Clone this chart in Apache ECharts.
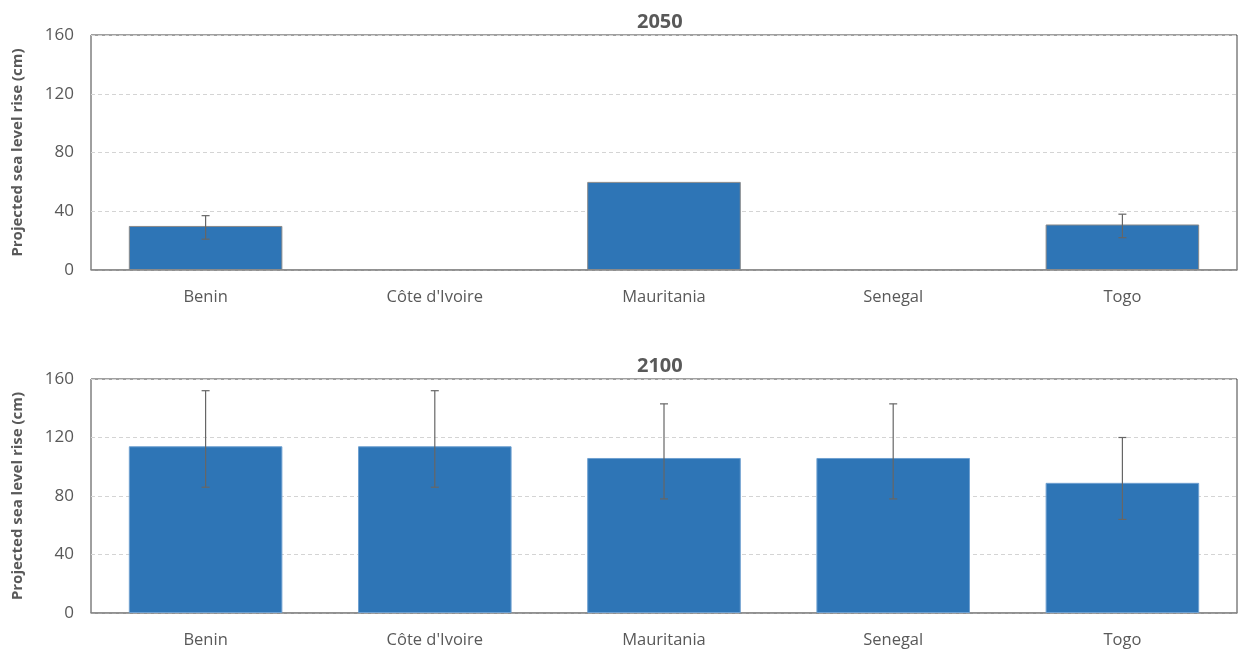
<!DOCTYPE html>
<html>
<head>
<meta charset="utf-8">
<script src="https://cdn.jsdelivr.net/npm/echarts@6/dist/echarts.min.js"></script>
<style>
  html, body { margin: 0; padding: 0; background: #fff; }
  #chart { width: 1243px; height: 651px; }
</style>
</head>
<body>
<div id="chart"></div>
<script>
const countries = ['Benin', "Côte d'Ivoire", 'Mauritania', 'Senegal', 'Togo'];
const yTicks = [0, 40, 80, 120, 160];

// 2050 projections (no value for Côte d'Ivoire and Senegal)
const rise2050 = [30, null, 60, null, 31];
const low2050 = [21, null, null, null, 22];
const high2050 = [37, null, null, null, 38];

// 2100 projections
const rise2100 = [114, 114, 106, 106, 89];
const low2100 = [86, 86, 78, 78, 64];
const high2100 = [152, 152, 143, 143, 120];

const barColor = '#2E75B6';
const textColor = '#595959';
const fontFamily = '"Open Sans", "Noto Sans", sans-serif';

const errorData = (low, high) =>
  low.map((l, i) => (l == null ? null : [i, l, high[i]])).filter((d) => d);

const renderError = (params, api) => {
  const x = api.value(0);
  const lo = api.coord([x, api.value(1)]);
  const hi = api.coord([x, api.value(2)]);
  const cap = 4;
  const style = { stroke: '#666', lineWidth: 1.2 };
  return {
    type: 'group',
    children: [
      { type: 'line', shape: { x1: hi[0], y1: hi[1], x2: lo[0], y2: lo[1] }, style },
      { type: 'line', shape: { x1: hi[0] - cap, y1: hi[1], x2: hi[0] + cap, y2: hi[1] }, style },
      { type: 'line', shape: { x1: lo[0] - cap, y1: lo[1], x2: lo[0] + cap, y2: lo[1] }, style }
    ]
  };
};

const grids = [
  { left: 91, right: 6, top: 35, height: 235 },
  { left: 91, right: 6, top: 379, height: 234 }
];

const makeX = (gridIndex) => ({
  type: 'category',
  gridIndex,
  data: countries,
  axisTick: { show: false },
  axisLine: { lineStyle: { color: '#8c8c8c', width: 1.5 } },
  axisLabel: { color: textColor, fontSize: 16.5, fontFamily, margin: 19 }
});

const makeY = (gridIndex) => ({
  type: 'value',
  gridIndex,
  min: yTicks[0],
  max: yTicks[yTicks.length - 1],
  interval: 40,
  name: 'Projected sea level rise (cm)',
  nameLocation: 'middle',
  nameGap: 66,
  nameTextStyle: { color: textColor, fontSize: 15, fontWeight: 'bold', fontFamily },
  axisLine: { show: false },
  axisTick: { show: false },
  axisLabel: { color: textColor, fontSize: 17, fontFamily, margin: 17 },
  splitLine: { lineStyle: { color: '#d4d4d4', type: [4, 3] } }
});

const chart = echarts.init(document.getElementById('chart'));
chart.setOption({
  animation: false,
  title: [
    { text: '2050', left: 632, top: 7,
      textStyle: { color: textColor, fontSize: 20, fontWeight: 'bold', fontFamily } },
    { text: '2100', left: 632, top: 351,
      textStyle: { color: textColor, fontSize: 20, fontWeight: 'bold', fontFamily } }
  ],
  grid: grids.map((g) => ({ ...g, show: true, borderColor: '#404040', borderWidth: 1, backgroundColor: '#fff' })),
  xAxis: [makeX(0), makeX(1)],
  yAxis: [makeY(0), makeY(1)],
  series: [
    {
      type: 'bar',
      xAxisIndex: 0,
      yAxisIndex: 0,
      data: rise2050,
      barCategoryGap: '33%',
      itemStyle: { color: barColor, borderColor: '#8a8a8a', borderWidth: 1 }
    },
    {
      type: 'custom',
      xAxisIndex: 0,
      yAxisIndex: 0,
      data: errorData(low2050, high2050),
      renderItem: renderError,
      z: 5
    },
    {
      type: 'bar',
      xAxisIndex: 1,
      yAxisIndex: 1,
      data: rise2100,
      barCategoryGap: '33%',
      itemStyle: { color: barColor, borderColor: '#6fa0d0', borderWidth: 1 }
    },
    {
      type: 'custom',
      xAxisIndex: 1,
      yAxisIndex: 1,
      data: errorData(low2100, high2100),
      renderItem: renderError,
      z: 5
    }
  ]
});
</script>
</body>
</html>
